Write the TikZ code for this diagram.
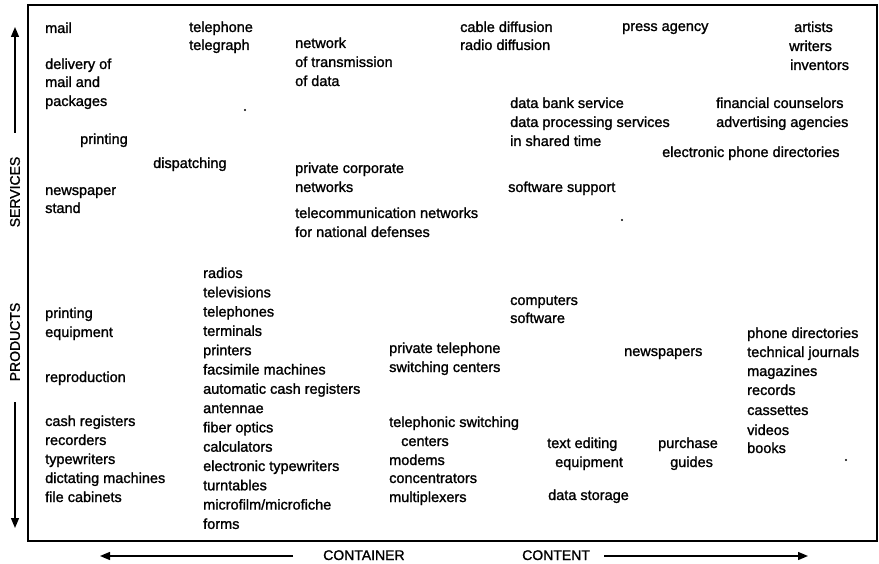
\documentclass[tikz,border=0pt]{standalone}
\usepackage{fontspec}
\setmainfont{Liberation Sans}[FakeBold=1.3]
\usetikzlibrary{arrows.meta}

\begin{document}
\begin{tikzpicture}[x=1pt,y=-1pt,
  lbl/.style={anchor=base west, inner sep=0pt, font=\fontsize{14.5}{17}\selectfont},
  axislbl/.style={inner sep=0pt, font=\fontsize{14}{17}\selectfont},
  frame/.style={line width=1.4pt},
  dir/.style={line width=1.4pt, -{Triangle[length=10pt,width=8pt]}},
]
\useasboundingbox (0,0) rectangle (879,564);

% outer frame
\coordinate (fa) at (28,5);
\coordinate (fb) at (877,541);
\draw[frame] (fa) rectangle (fb);

% vertical axis: services up, products down
\coordinate (sv0) at (15,133);
\coordinate (sv1) at (15,27);
\draw[dir] (sv0) -- (sv1);
\node[axislbl, rotate=90] (services) at (15,192) {SERVICES};
\node[axislbl, rotate=90] (products) at (15,342) {PRODUCTS};
\coordinate (pr0) at (15,402);
\coordinate (pr1) at (15,528);
\draw[dir] (pr0) -- (pr1);

% horizontal axis: container left, content right
\coordinate (ct0) at (293,556);
\coordinate (ct1) at (100,556);
\draw[dir] (ct0) -- (ct1);
\node[lbl, font=\fontsize{14}{17}\selectfont] (container) at (323,560) {CONTAINER};
\node[lbl, font=\fontsize{14}{17}\selectfont] (content) at (522,560) {CONTENT};
\coordinate (cn0) at (604,556);
\coordinate (cn1) at (808,556);
\draw[dir] (cn0) -- (cn1);

% ---- services ----
\node[lbl] (s1) at (45,33) {mail};
\node[lbl] (s2) at (189,32) {telephone};
\node[lbl] (s3) at (189,50) {telegraph};
\node[lbl] (s4) at (45,69) {delivery of};
\node[lbl] (s5) at (45,87) {mail and};
\node[lbl] (s6) at (45,106) {packages};
\node[lbl] (s7) at (80,144) {printing};
\node[lbl] (s8) at (153,168) {dispatching};
\node[lbl] (s9) at (45,195) {newspaper};
\node[lbl] (s10) at (45,213) {stand};
\node[lbl] (s11) at (295,48) {network};
\node[lbl] (s12) at (295,67) {of transmission};
\node[lbl] (s13) at (295,86) {of data};
\node[lbl] (s14) at (460,32) {cable diffusion};
\node[lbl] (s15) at (460,50) {radio diffusion};
\node[lbl] (s16) at (622,31) {press agency};
\node[lbl] (s17) at (794,32) {artists};
\node[lbl] (s18) at (789,51) {writers};
\node[lbl] (s19) at (790,70) {inventors};
\node[lbl] (s20) at (510,108) {data bank service};
\node[lbl] (s21) at (510,127) {data processing services};
\node[lbl] (s22) at (510,146) {in shared time};
\node[lbl] (s23) at (716,108) {financial counselors};
\node[lbl] (s24) at (716,127) {advertising agencies};
\node[lbl] (s25) at (662,157) {electronic phone directories};
\node[lbl] (s26) at (295,173) {private corporate};
\node[lbl] (s27) at (295,192) {networks};
\node[lbl] (s28) at (508,192) {software support};
\node[lbl] (s29) at (295,218) {telecommunication networks};
\node[lbl] (s30) at (295,237) {for national defenses};

% ---- products ----
\node[lbl] (p1) at (45,318) {printing};
\node[lbl] (p2) at (45,337) {equipment};
\node[lbl] (p3) at (45,382) {reproduction};
\node[lbl] (p4) at (45,426) {cash registers};
\node[lbl] (p5) at (45,445) {recorders};
\node[lbl] (p6) at (45,464) {typewriters};
\node[lbl] (p7) at (45,483) {dictating machines};
\node[lbl] (p8) at (45,502) {file cabinets};

\node[lbl] (q1) at (203,278.0) {radios};
\node[lbl] (q2) at (203,297.3) {televisions};
\node[lbl] (q3) at (203,316.6) {telephones};
\node[lbl] (q4) at (203,335.9) {terminals};
\node[lbl] (q5) at (203,355.2) {printers};
\node[lbl] (q6) at (203,374.5) {facsimile machines};
\node[lbl] (q7) at (203,393.8) {automatic cash registers};
\node[lbl] (q8) at (203,413.1) {antennae};
\node[lbl] (q9) at (203,432.4) {fiber optics};
\node[lbl] (q10) at (203,451.7) {calculators};
\node[lbl] (q11) at (203,471.0) {electronic typewriters};
\node[lbl] (q12) at (203,490.3) {turntables};
\node[lbl] (q13) at (203,509.6) {microfilm/microfiche};
\node[lbl] (q14) at (203,528.9) {forms};

\node[lbl] (r1) at (510,305) {computers};
\node[lbl] (r2) at (510,323) {software};
\node[lbl] (r3) at (389,353) {private telephone};
\node[lbl] (r4) at (389,372) {switching centers};
\node[lbl] (r5) at (389,427) {telephonic switching};
\node[lbl] (r6) at (401,446) {centers};
\node[lbl] (r7) at (389,465) {modems};
\node[lbl] (r8) at (389,483) {concentrators};
\node[lbl] (r9) at (389,502) {multiplexers};
\node[lbl] (r10) at (547,448) {text editing};
\node[lbl] (r11) at (555,467) {equipment};
\node[lbl] (r12) at (548,500) {data storage};
\node[lbl] (r13) at (658,448) {purchase};
\node[lbl] (r14) at (670,467) {guides};
\node[lbl] (r15) at (624,356) {newspapers};

\node[lbl] (m1) at (747,338) {phone directories};
\node[lbl] (m2) at (747,357) {technical journals};
\node[lbl] (m3) at (747,376) {magazines};
\node[lbl] (m4) at (747,395) {records};
\node[lbl] (m5) at (747,415) {cassettes};
\node[lbl] (m6) at (747,435) {videos};
\node[lbl] (m7) at (747,453) {books};

% small stray dots
\coordinate (dot1) at (245,110);
\coordinate (dot2) at (622,220);
\coordinate (dot3) at (846,460);
\fill (dot1) circle (1.1pt);
\fill (dot2) circle (1.1pt);
\fill (dot3) circle (1.1pt);
\end{tikzpicture}
\end{document}
